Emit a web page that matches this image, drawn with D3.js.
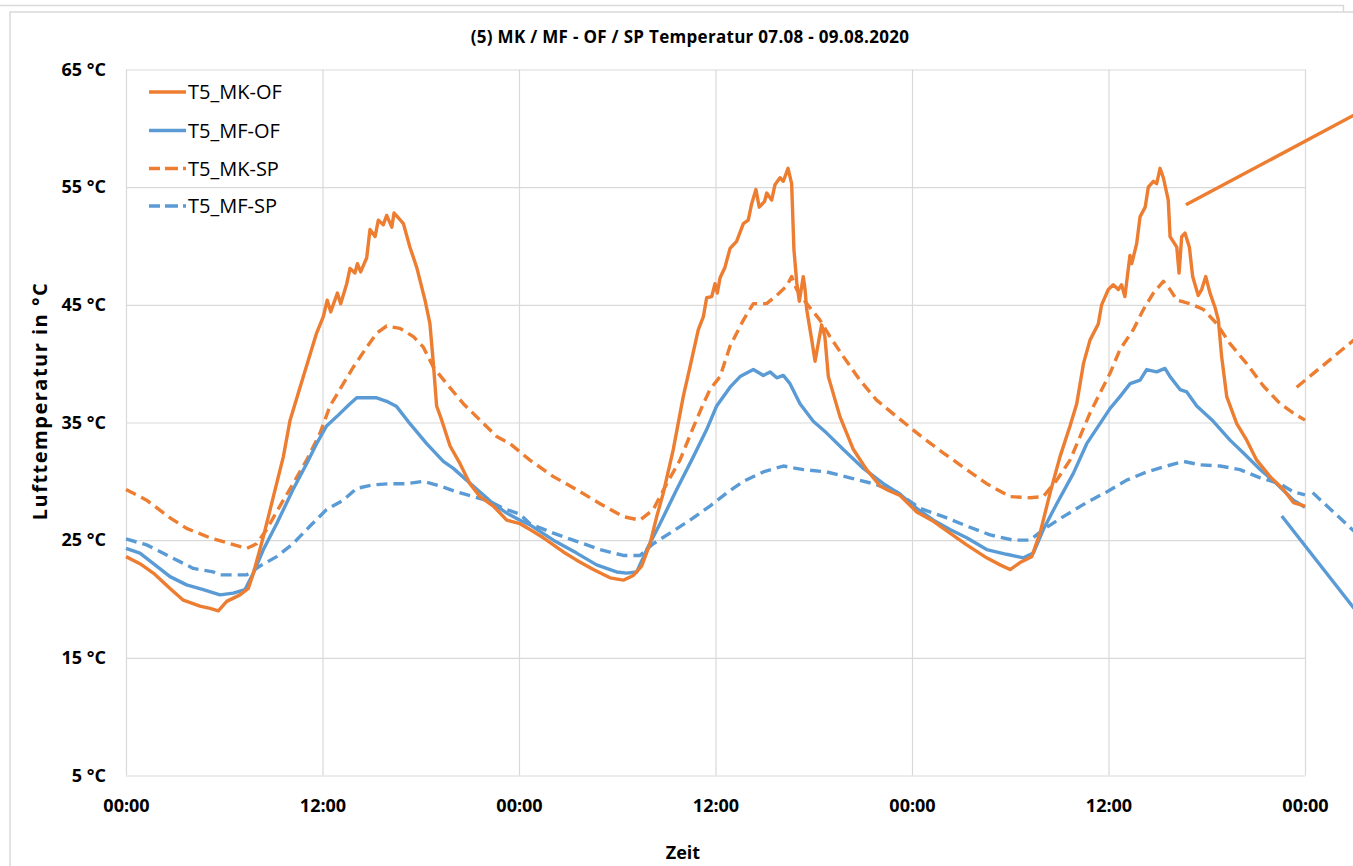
<!DOCTYPE html>
<html><head><meta charset="utf-8">
<script src="https://cdn.jsdelivr.net/npm/d3@7"></script>
<style>
html,body{margin:0;padding:0;background:#fff;}
svg{display:block;font-family:"Open Sans","Noto Sans",sans-serif;}
</style></head>
<body>
<svg id="chart" width="1353" height="866"></svg>
<script>
// ---- data ----
const chartTitle = "(5) MK / MF - OF / SP Temperatur 07.08 - 09.08.2020";
const yAxisTitle = "Lufttemperatur in °C";
const xAxisTitle = "Zeit";
const xTickHours = [0, 12, 24, 36, 48, 60, 72];
const xTickLabels = ["00:00", "12:00", "00:00", "12:00", "00:00", "12:00", "00:00"];
const yTickValues = [5, 15, 25, 35, 45, 55, 65];
const yTickLabels = ["5 °C", "15 °C", "25 °C", "35 °C", "45 °C", "55 °C", "65 °C"];
const seriesNames = ["T5_MK-OF", "T5_MF-OF", "T5_MK-SP", "T5_MF-SP"];

// [hour, °C]
const mkOF = [[0,23.6],[0.85,23.0],[1.67,22.2],[2.69,20.9],[3.5,19.9],[4.52,19.4],[5.13,19.2],[5.64,19.0],[6.15,19.8],[6.96,20.35],[7.47,20.9],[7.78,22.2],[8.39,25.3],[9.0,28.7],[9.61,32.1],[10.02,35.2],[10.83,38.9],[11.64,42.6],[12.05,44.0],[12.29,45.4],[12.5,44.4],[12.91,46.0],[13.11,45.1],[13.48,46.8],[13.68,48.1],[13.98,47.7],[14.13,48.5],[14.33,47.8],[14.7,49.0],[14.9,51.4],[15.21,50.8],[15.41,52.2],[15.71,51.8],[15.92,52.6],[16.23,51.6],[16.37,52.8],[16.63,52.4],[16.94,51.9],[17.34,49.9],[17.75,48.2],[18.26,45.4],[18.56,43.4],[18.77,40.0],[18.97,36.4],[19.28,35.2],[19.79,33.0],[20.4,31.5],[21.0,29.8],[21.62,28.7],[22.43,27.9],[23.25,26.7],[24.06,26.4],[24.67,25.9],[25.49,25.2],[26.71,24.0],[27.52,23.3],[28.54,22.5],[29.56,21.8],[30.37,21.6],[30.98,22.0],[31.49,22.8],[32.0,24.7],[32.41,27.0],[32.81,29.0],[33.42,32.7],[34.03,37.2],[34.44,39.7],[34.95,42.9],[35.26,44.0],[35.46,45.6],[35.77,45.7],[35.97,46.8],[36.11,46.0],[36.28,47.3],[36.58,48.2],[36.89,49.8],[37.29,50.4],[37.7,51.9],[38.0,52.2],[38.21,53.6],[38.47,54.8],[38.67,53.3],[39.0,53.8],[39.13,54.5],[39.43,53.9],[39.63,55.2],[39.94,55.8],[40.14,55.5],[40.43,56.6],[40.65,55.3],[40.79,49.7],[40.96,46.9],[41.12,45.3],[41.36,47.4],[41.47,46.3],[41.57,44.6],[41.88,42.0],[42.08,40.2],[42.48,43.3],[42.68,42.3],[42.89,38.9],[43.6,35.5],[44.42,32.7],[45.23,31.0],[46.05,29.6],[46.6,29.2],[47.27,28.8],[48.29,27.4],[49.31,26.6],[50.32,25.6],[51.34,24.6],[52.56,23.5],[53.38,22.9],[53.99,22.5],[54.6,23.1],[55.31,23.6],[55.82,25.6],[56.43,29.0],[57.04,32.1],[57.65,34.7],[58.06,36.6],[58.47,40.0],[58.87,42.0],[59.38,43.4],[59.58,45.0],[59.99,46.3],[60.29,46.7],[60.6,46.3],[60.8,46.7],[61.0,45.7],[61.31,49.2],[61.42,48.5],[61.72,50.2],[61.93,52.5],[62.24,53.3],[62.43,55.0],[62.74,55.5],[62.94,55.3],[63.15,56.6],[63.35,55.8],[63.65,53.9],[63.76,50.8],[64.17,49.9],[64.31,47.7],[64.47,50.8],[64.67,51.1],[64.94,49.9],[65.14,47.4],[65.48,45.8],[65.69,46.3],[65.94,47.4],[66.2,46.0],[66.5,44.8],[66.71,43.7],[66.91,40.6],[67.22,37.2],[67.83,34.9],[68.44,33.5],[69.05,31.8],[69.87,30.4],[70.68,29.3],[71.29,28.2],[72.0,27.9]];

const mfOF = [[0,24.3],[0.85,23.9],[1.87,22.8],[2.69,21.9],[3.7,21.2],[4.72,20.8],[5.74,20.35],[6.55,20.5],[7.27,20.8],[7.78,22.2],[8.39,24.2],[9.2,26.4],[10.2,29.3],[11.03,31.5],[11.64,33.2],[12.25,34.7],[12.87,35.5],[13.68,36.6],[14.09,37.1],[15.31,37.1],[15.92,36.8],[16.53,36.35],[17.34,34.9],[18.36,33.2],[19.38,31.7],[19.99,31.1],[20.8,30.1],[21.62,29.1],[22.43,28.1],[23.25,27.3],[24.06,26.7],[24.67,26.3],[26.1,25.0],[27.52,23.9],[28.74,22.9],[29.96,22.3],[30.57,22.2],[31.19,22.3],[31.8,24.2],[32.61,26.4],[33.63,29.3],[34.65,32.1],[35.46,34.4],[36.07,36.4],[36.89,38.0],[37.5,38.9],[38.31,39.5],[38.92,39.0],[39.33,39.3],[39.74,38.8],[40.14,39.0],[40.55,38.3],[41.16,36.6],[41.97,35.1],[42.79,34.1],[43.81,32.7],[45.03,31.1],[46.25,29.8],[47.27,28.9],[48.29,27.7],[49.31,26.7],[50.32,25.9],[51.34,25.2],[52.56,24.2],[53.78,23.8],[54.8,23.5],[55.41,23.9],[56.02,25.9],[56.84,28.1],[57.86,30.7],[58.67,33.2],[59.48,34.9],[60.1,36.2],[60.7,37.2],[61.32,38.3],[61.93,38.6],[62.33,39.5],[62.94,39.3],[63.45,39.6],[63.76,38.9],[64.37,37.8],[64.78,37.6],[65.39,36.4],[66.4,35.1],[67.42,33.5],[68.24,32.4],[69.26,31.0],[70.27,29.8],[71.29,28.4],[72.0,27.8]];

const mkSP = [[0,29.3],[1.26,28.4],[2.69,26.9],[3.7,26.0],[5.13,25.2],[6.35,24.7],[7.37,24.3],[7.98,24.7],[8.59,25.9],[9.4,27.9],[10.2,29.8],[11.03,31.8],[11.85,34.1],[12.46,36.4],[13.27,38.3],[13.88,39.7],[14.7,41.4],[15.31,42.6],[15.92,43.2],[16.73,43.0],[17.55,42.3],[18.16,41.4],[18.77,39.7],[19.58,38.3],[20.6,36.6],[21.62,35.2],[22.64,33.8],[23.45,33.2],[24.67,31.8],[26.1,30.4],[27.52,29.3],[28.95,28.1],[30.37,27.0],[31.39,26.7],[32.2,27.6],[33.02,29.8],[33.83,31.8],[34.65,34.6],[35.26,36.6],[35.66,37.8],[36.28,38.9],[36.89,41.5],[37.7,43.7],[38.31,45.1],[39.12,45.1],[39.74,45.8],[40.35,46.6],[40.65,47.4],[40.96,46.3],[41.57,45.1],[42.38,43.7],[42.99,42.3],[43.81,40.6],[44.82,38.6],[45.84,36.9],[47.06,35.5],[48.49,33.9],[49.92,32.4],[51.34,31.0],[52.56,29.8],[53.99,28.7],[55.21,28.6],[56.02,28.7],[56.84,30.1],[57.65,31.8],[58.26,33.8],[58.87,35.8],[59.48,37.5],[60.1,39.2],[60.7,41.2],[61.52,42.9],[62.13,44.6],[62.74,46.0],[63.35,47.0],[63.76,46.3],[64.17,45.4],[64.98,45.1],[65.8,44.6],[66.61,43.4],[67.42,41.7],[68.44,40.0],[69.46,38.1],[70.48,36.6],[71.29,35.8],[72.0,35.2]];

const mfSP = [[0,25.1],[1.26,24.6],[2.69,23.6],[4.11,22.6],[5.33,22.3],[5.74,22.05],[7.37,22.05],[8.18,22.8],[9.2,23.6],[10.2,24.7],[11.24,26.2],[12.25,27.6],[13.27,28.4],[14.09,29.4],[15.1,29.7],[16.12,29.8],[17.14,29.8],[18.16,30.0],[19.18,29.6],[20.19,29.1],[21.21,28.7],[22.23,28.3],[23.04,27.7],[24.06,27.2],[24.67,26.4],[26.1,25.6],[27.52,24.9],[28.95,24.2],[30.37,23.7],[31.39,23.7],[32.2,24.7],[33.22,25.6],[34.44,26.7],[35.66,27.9],[36.68,29.0],[37.7,30.0],[38.92,30.8],[40.14,31.3],[41.36,31.0],[42.79,30.8],[44.21,30.3],[45.64,29.8],[47.06,29.1],[48.49,27.7],[49.92,27.0],[51.34,26.2],[52.77,25.45],[54.19,25.0],[55.21,25.0],[56.02,25.9],[57.24,27.0],[58.67,28.2],[59.89,29.1],[61.11,30.1],[62.33,30.8],[63.55,31.3],[64.57,31.7],[65.59,31.4],[66.81,31.3],[68.03,31.0],[69.26,30.3],[70.48,29.8],[71.29,29.1],[72.0,28.85]];

// stray leader segments drawn past the plot area (start/end in [hour, °C])
const strayMkOF = [[64.73,53.5],[75.5,61.5]];
const strayMkSP = [[71.49,38.0],[75.5,42.6]];
const strayMfSP = [[72.47,29.04],[75.5,25.1]];
const strayMfOF = [[70.58,27.06],[75.5,18.3]];

// ---- drawing ----
const ORANGE = "#ED7D31", BLUE = "#5B9BD5", GRID = "#d9d9d9";
const svg = d3.select("#chart");

// background frames
svg.append("rect").attr("x",-5).attr("y",5.5).attr("width",1348.5).attr("height",900)
  .attr("fill","#fff").attr("stroke",GRID).attr("stroke-width",1.5);
svg.append("rect").attr("x",10).attr("y",12).attr("width",1400).attr("height",900)
  .attr("fill","#fff").attr("stroke",GRID).attr("stroke-width",1.5);

const x = d3.scaleLinear().domain([0,72]).range([126,1305]);
const y = d3.scaleLinear().domain([5,65]).range([775.5,69.5]);

// gridlines
svg.append("g").attr("transform","translate(0,775.5)")
  .call(d3.axisBottom(x).tickValues(xTickHours).tickSize(-(775.5-69.5)).tickFormat(""))
  .call(g=>g.select(".domain").remove())
  .call(g=>g.selectAll("line").attr("stroke",GRID).attr("stroke-width",1.2));
svg.append("g").attr("transform","translate(126,0)")
  .call(d3.axisLeft(y).tickValues(yTickValues).tickSize(-(1305-126)).tickFormat(""))
  .call(g=>g.select(".domain").remove())
  .call(g=>g.selectAll("line").attr("stroke",GRID).attr("stroke-width",1.2));

// tick labels
svg.append("g").attr("transform","translate(0,775.5)")
  .call(d3.axisBottom(x).tickValues(xTickHours).tickSize(0).tickPadding(24)
    .tickFormat((d,i)=>xTickLabels[i]))
  .call(g=>g.select(".domain").remove())
  .call(g=>g.selectAll("text").attr("font-family","'Open Sans',sans-serif")
    .attr("font-size",18).attr("font-weight","bold").attr("fill","#000"));
svg.append("g").attr("transform","translate(106,0)")
  .call(d3.axisLeft(y).tickValues(yTickValues).tickSize(0).tickPadding(0)
    .tickFormat((d,i)=>yTickLabels[i]))
  .call(g=>g.select(".domain").remove())
  .call(g=>g.selectAll("text").attr("font-family","'Open Sans',sans-serif")
    .attr("font-size",18).attr("font-weight","bold").attr("fill","#000"));

// titles
svg.append("text").attr("x",690).attr("y",43).attr("text-anchor","middle")
  .attr("font-size",17).attr("font-weight","bold").attr("letter-spacing",0.3).text(chartTitle);
svg.append("text").attr("x",683).attr("y",859).attr("text-anchor","middle")
  .attr("font-size",18).attr("font-weight","bold").text(xAxisTitle);
svg.append("text").attr("transform","translate(47,401) rotate(-90)").attr("text-anchor","middle")
  .attr("font-size",20).attr("font-weight","bold").attr("letter-spacing",1.5).text(yAxisTitle);

// series
const line = d3.line().x(d=>x(d[0])).y(d=>y(d[1]));
const seriesDefs = [
  {data: mfSP, color: BLUE, dash: "11,6"},
  {data: mkSP, color: ORANGE, dash: "11,6"},
  {data: mfOF, color: BLUE, dash: null},
  {data: mkOF, color: ORANGE, dash: null}
];
seriesDefs.forEach(s=>{
  svg.append("path").attr("d",line(s.data)).attr("fill","none")
    .attr("stroke",s.color).attr("stroke-width",3.4)
    .attr("stroke-linejoin","round")
    .attr("stroke-dasharray",s.dash);
});
[[strayMkOF,ORANGE,null],[strayMkSP,ORANGE,"11,6"],[strayMfSP,BLUE,"11,6"],[strayMfOF,BLUE,null]]
  .forEach(([d,c,dash])=>{
    svg.append("path").attr("d",line(d)).attr("fill","none").attr("stroke",c)
      .attr("stroke-width",3.4).attr("stroke-dasharray",dash);
  });

// legend
const legendColors = [ORANGE, BLUE, ORANGE, BLUE];
const legendDash = [null, null, "11,5,13,5,3,5", "11,5,13,5,3,5"];
const legendY = [92, 130.5, 168.5, 206];
seriesNames.forEach((n,i)=>{
  svg.append("line").attr("x1",149).attr("x2",186).attr("y1",legendY[i]).attr("y2",legendY[i])
    .attr("stroke",legendColors[i]).attr("stroke-width",3.4).attr("stroke-dasharray",legendDash[i]);
  svg.append("text").attr("x",188).attr("y",legendY[i]).attr("dy","0.35em")
    .attr("font-size",20).attr("fill","#000").text(n);
});
</script>
</body></html>
